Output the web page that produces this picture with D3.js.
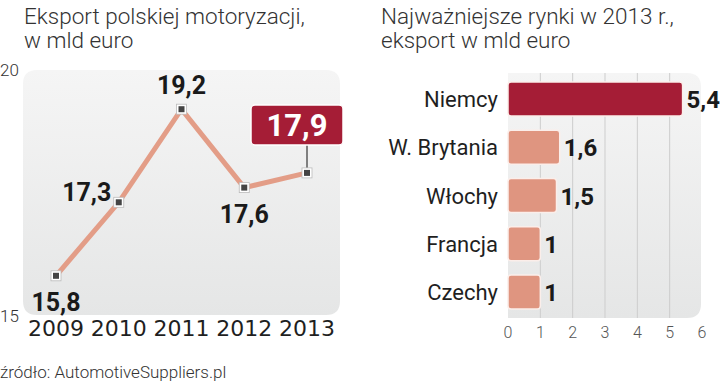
<!DOCTYPE html>
<html>
<head>
<meta charset="utf-8">
<script src="https://cdn.jsdelivr.net/npm/d3@7"></script>
<style>
  body { margin: 0; background: #fff; }
  svg { display: block; }
  .light { font-family: Roboto, "Noto Sans", sans-serif; font-weight: 300; fill: #333; }
  .num { font-family: Roboto, "Noto Sans", sans-serif; font-weight: 700; fill: #1a1a1a; }
  .reg { font-family: Roboto, "Noto Sans", sans-serif; font-weight: 400; fill: #1f1f1f; }
  .wide { font-family: "DejaVu Sans", sans-serif; font-weight: 400; fill: #1f1f1f; }
</style>
</head>
<body>
<script>
// line chart: export of Polish automotive, bn euro
var years = ['2009', '2010', '2011', '2012', '2013'];
var exportValues = [15.8, 17.3, 19.2, 17.6, 17.9];
var exportLabels = ['15,8', '17,3', '19,2', '17,6', '17,9'];
var yTicks = [15, 20];

// bar chart: main markets 2013
var markets = ['Niemcy', 'W. Brytania', 'Włochy', 'Francja', 'Czechy'];
var marketValues = [5.4, 1.6, 1.5, 1, 1];
var marketLabels = ['5,4', '1,6', '1,5', '1', '1'];
var xTicks = [0, 1, 2, 3, 4, 5, 6];

var width = 720, height = 382;
var svg = d3.select('body').append('svg')
    .attr('width', width)
    .attr('height', height);

var defs = svg.append('defs');
var grad = defs.append('linearGradient')
    .attr('id', 'panelGrad')
    .attr('x1', 0).attr('y1', 0).attr('x2', 0).attr('y2', 1);
grad.append('stop').attr('offset', '0%').attr('stop-color', '#f5f5f5');
grad.append('stop').attr('offset', '100%').attr('stop-color', '#e5e6e6');

// titles (one text per line)
function title(x, lines) {
    lines.forEach(function(l, i) {
        svg.append('text').attr('class', 'light')
            .style('font-size', '22.5px')
            .attr('x', x).attr('y', 24 + i * 24)
            .text(l);
    });
}
title(24, ['Eksport polskiej motoryzacji,', 'w mld euro']);
title(381, ['Najważniejsze rynki w 2013 r.,', 'eksport w mld euro']);

// ---------- left: line chart ----------
var x = d3.scalePoint().domain(years).range([56, 307]);
var y = d3.scaleLinear().domain([15, 20]).range([315, 70]);

svg.append('path')
    .attr('d', 'M23,70 H326 Q340,70 340,84 V301 Q340,315 326,315 H37 Q23,315 23,301 V84 Q23,70 37,70 Z')
    .attr('fill', 'url(#panelGrad)');

svg.selectAll('.ytick')
    .data(yTicks)
    .enter().append('text')
    .attr('class', 'light ytick')
    .style('font-size', '17px')
    .attr('x', 0)
    .attr('y', function(d) { return y(d) + (d === 20 ? 6 : 7); })
    .text(function(d) { return d; });

var line = d3.line()
    .x(function(d, i) { return x(years[i]); })
    .y(function(d) { return y(d); });

svg.append('path')
    .datum(exportValues)
    .attr('d', line)
    .attr('fill', 'none')
    .attr('stroke', '#e39d87')
    .attr('stroke-width', 5)
    .attr('stroke-linejoin', 'miter');

// highlight box for last value
var last = exportValues.length - 1;
var lx = x(years[last]);
svg.append('line')
    .attr('x1', lx).attr('x2', lx)
    .attr('y1', 145).attr('y2', y(exportValues[last]))
    .attr('stroke', '#111').attr('stroke-width', 1);
svg.append('rect')
    .attr('x', 251).attr('y', 105)
    .attr('width', 92).attr('height', 40)
    .attr('rx', 4)
    .attr('fill', '#a51d36')
    .attr('stroke', '#fff').attr('stroke-width', 1.5);
svg.append('text')
    .attr('class', 'num')
    .style('fill', '#fff')
    .style('font-size', '31px')
    .attr('x', 297).attr('y', 136)
    .attr('text-anchor', 'middle')
    .text(exportLabels[last]);

// markers
var mk = svg.selectAll('.marker')
    .data(exportValues)
    .enter().append('g')
    .attr('class', 'marker')
    .attr('transform', function(d, i) { return 'translate(' + x(years[i]) + ',' + y(d) + ')'; });
mk.append('rect')
    .attr('x', -5).attr('y', -5).attr('width', 10).attr('height', 10)
    .attr('fill', '#fff').attr('stroke', '#bbb').attr('stroke-width', 0.8);
mk.append('rect')
    .attr('x', -3).attr('y', -3).attr('width', 6).attr('height', 6)
    .attr('fill', '#444');

// value labels
var placement = ['below', 'left', 'above', 'below'];
svg.selectAll('.vlab')
    .data(exportValues.slice(0, last))
    .enter().append('text')
    .attr('class', 'num vlab')
    .style('font-size', '25px')
    .attr('text-anchor', 'middle')
    .attr('x', function(d, i) {
        return placement[i] === 'left' ? x(years[i]) - 32 : x(years[i]);
    })
    .attr('y', function(d, i) {
        var p = placement[i];
        if (p === 'above') return y(d) - 15;
        if (p === 'left') return y(d) - 1;
        return y(d) + 35;
    })
    .text(function(d, i) { return exportLabels[i]; });

// year labels
svg.selectAll('.year')
    .data(years)
    .enter().append('text')
    .attr('class', 'wide year')
    .style('font-size', '22px')
    .attr('text-anchor', 'middle')
    .attr('x', function(d) { return x(d); })
    .attr('y', 336)
    .text(function(d) { return d; });

// ---------- right: bar chart ----------
var xb = d3.scaleLinear().domain([0, 6]).range([508, 702]);
var yb = d3.scaleBand().domain(markets).range([73, 318])
    .paddingInner(0.296).paddingOuter(0.186);

svg.append('path')
    .attr('d', 'M508,73 H687 Q701,73 701,87 V304 Q701,318 687,318 H508 Z')
    .attr('fill', 'url(#panelGrad)');

svg.selectAll('.grid')
    .data(xTicks.slice(1, -1))
    .enter().append('line')
    .attr('class', 'grid')
    .attr('x1', function(d) { return xb(d); })
    .attr('x2', function(d) { return xb(d); })
    .attr('y1', 73).attr('y2', 318)
    .attr('stroke', '#cdcdcd').attr('stroke-width', 1);

svg.selectAll('.bar')
    .data(marketValues)
    .enter().append('rect')
    .attr('class', 'bar')
    .attr('x', xb(0))
    .attr('y', function(d, i) { return yb(markets[i]); })
    .attr('width', function(d) { return xb(d) - xb(0); })
    .attr('height', yb.bandwidth())
    .attr('rx', 3)
    .attr('fill', function(d, i) { return i === 0 ? '#a51d36' : '#df9580'; })
    .attr('stroke', '#fbeeea').attr('stroke-width', 1.5);

svg.selectAll('.cat')
    .data(markets)
    .enter().append('text')
    .attr('class', 'reg cat')
    .style('font-size', '22px')
    .attr('text-anchor', 'end')
    .attr('x', 498)
    .attr('y', function(d) { return yb(d) + yb.bandwidth() / 2 + 8; })
    .text(function(d) { return d; });

svg.selectAll('.blab')
    .data(marketValues)
    .enter().append('text')
    .attr('class', 'num blab')
    .style('font-size', '24px')
    .attr('x', function(d) { return xb(d) + 4; })
    .attr('y', function(d, i) { return yb(markets[i]) + yb.bandwidth() / 2 + 9; })
    .text(function(d, i) { return marketLabels[i]; });

svg.selectAll('.xtick')
    .data(xTicks)
    .enter().append('text')
    .attr('class', 'light xtick')
    .style('font-size', '16px')
    .style('fill', '#555')
    .attr('text-anchor', 'middle')
    .attr('x', function(d) { return xb(d); })
    .attr('y', 338)
    .text(function(d) { return d; });

// source
svg.append('text')
    .attr('class', 'light')
    .style('font-size', '17px')
    .attr('x', 0).attr('y', 378)
    .text('źródło: AutomotiveSuppliers.pl');
</script>
</body>
</html>
